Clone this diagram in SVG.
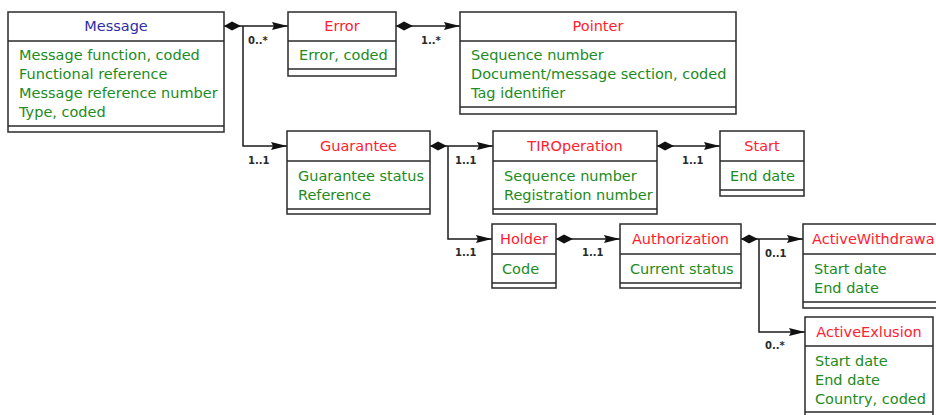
<svg xmlns="http://www.w3.org/2000/svg" width="936" height="415" viewBox="0 0 936 415">
<style>
  .box { fill: #ffffff; stroke: #2a2a2a; stroke-width: 1.5; }
  .sep { stroke: #2a2a2a; stroke-width: 1.5; fill: none; }
  .title { font-family: "DejaVu Sans", Verdana, sans-serif; font-size: 14.5px; fill: #ff2030; text-anchor: middle; }
  .title.main { fill: #2e2ea8; }
  .attr { font-family: "DejaVu Sans", Verdana, sans-serif; font-size: 14.5px; fill: #228b22; }
  .conn { stroke: #1a1a1a; stroke-width: 1.5; fill: none; }
  .lbl { font-family: "DejaVu Sans", Verdana, sans-serif; font-size: 10px; font-weight: bold; fill: #2a2a2a; }
</style>
<defs>
  <marker id="diamond" markerUnits="userSpaceOnUse" markerWidth="18" markerHeight="10" refX="0" refY="5" orient="auto" overflow="visible">
    <path d="M0,5 L8,0.5 L17,5 L8,9.5 Z" fill="#111"/>
  </marker>
  <marker id="arrow" markerUnits="userSpaceOnUse" markerWidth="16" markerHeight="10" refX="16" refY="5" orient="auto" overflow="visible">
    <path d="M0,1 L16,5 L0,9 L2,5 Z" fill="#111"/>
  </marker>
</defs>

<g id="connectors">
  <path class="conn" d="M224,26 H288" marker-start="url(#diamond)" marker-end="url(#arrow)"/>
  <path class="conn" d="M243,26 V146 H287" marker-end="url(#arrow)"/>
  <path class="conn" d="M396,26 H460" marker-start="url(#diamond)" marker-end="url(#arrow)"/>
  <path class="conn" d="M430,146 H493" marker-start="url(#diamond)" marker-end="url(#arrow)"/>
  <path class="conn" d="M448,146 V239 H492" marker-end="url(#arrow)"/>
  <path class="conn" d="M657,146 H720" marker-start="url(#diamond)" marker-end="url(#arrow)"/>
  <path class="conn" d="M556,239 H620" marker-start="url(#diamond)" marker-end="url(#arrow)"/>
  <path class="conn" d="M741,239 H803" marker-start="url(#diamond)" marker-end="url(#arrow)"/>
  <path class="conn" d="M759,239 V332 H805" marker-end="url(#arrow)"/>
  <text class="lbl" x="248" y="44">0..*</text>
  <text class="lbl" x="421" y="44">1..*</text>
  <text class="lbl" x="248" y="164">1..1</text>
  <text class="lbl" x="455" y="164">1..1</text>
  <text class="lbl" x="682" y="164">1..1</text>
  <text class="lbl" x="455" y="256">1..1</text>
  <text class="lbl" x="582" y="256">1..1</text>
  <text class="lbl" x="765" y="257">0..1</text>
  <text class="lbl" x="765" y="349">0..*</text>
</g>

<g id="Message">
  <rect class="box" x="8" y="12" width="216" height="120"/>
  <path class="sep" d="M8,41 H224 M8,126 H224"/>
  <text class="title main" x="116" y="31">Message</text>
  <text class="attr" x="19" y="60">Message function, coded</text>
  <text class="attr" x="19" y="79">Functional reference</text>
  <text class="attr" x="19" y="98">Message reference number</text>
  <text class="attr" x="19" y="117">Type, coded</text>
</g>

<g id="Error">
  <rect class="box" x="288" y="12" width="108" height="64"/>
  <path class="sep" d="M288,41 H396 M288,69 H396"/>
  <text class="title" x="342" y="31">Error</text>
  <text class="attr" x="299" y="60">Error, coded</text>
</g>

<g id="Pointer">
  <rect class="box" x="460" y="12" width="276" height="102"/>
  <path class="sep" d="M460,41 H736 M460,107 H736"/>
  <text class="title" x="598" y="31">Pointer</text>
  <text class="attr" x="471" y="60">Sequence number</text>
  <text class="attr" x="471" y="79">Document/message section, coded</text>
  <text class="attr" x="471" y="98">Tag identifier</text>
</g>

<g id="Guarantee">
  <rect class="box" x="287" y="131" width="143" height="83"/>
  <path class="sep" d="M287,161 H430 M287,209 H430"/>
  <text class="title" x="358.5" y="151">Guarantee</text>
  <text class="attr" x="298" y="181">Guarantee status</text>
  <text class="attr" x="298" y="200">Reference</text>
</g>

<g id="TIROperation">
  <rect class="box" x="493" y="131" width="164" height="83"/>
  <path class="sep" d="M493,161 H657 M493,209 H657"/>
  <text class="title" x="575" y="151">TIROperation</text>
  <text class="attr" x="504" y="181">Sequence number</text>
  <text class="attr" x="504" y="200">Registration number</text>
</g>

<g id="Start">
  <rect class="box" x="720" y="131" width="84" height="65"/>
  <path class="sep" d="M720,161 H804 M720,190 H804"/>
  <text class="title" x="762" y="151">Start</text>
  <text class="attr" x="730" y="181">End date</text>
</g>

<g id="Holder">
  <rect class="box" x="492" y="224" width="64" height="64"/>
  <path class="sep" d="M492,254 H556 M492,283 H556"/>
  <text class="title" x="524" y="244">Holder</text>
  <text class="attr" x="502" y="274">Code</text>
</g>

<g id="Authorization">
  <rect class="box" x="620" y="224" width="121" height="64"/>
  <path class="sep" d="M620,254 H741 M620,283 H741"/>
  <text class="title" x="680.5" y="244">Authorization</text>
  <text class="attr" x="630" y="274">Current status</text>
</g>

<g id="ActiveWithdrawal">
  <rect class="box" x="803" y="224" width="150" height="84"/>
  <path class="sep" d="M803,254 H953 M803,302 H953"/>
  <text class="title" x="812" y="244" style="text-anchor:start">ActiveWithdrawa</text>
  <text class="attr" x="814" y="274">Start date</text>
  <text class="attr" x="814" y="293">End date</text>
</g>

<g id="ActiveExlusion">
  <rect class="box" x="805" y="317" width="128" height="102"/>
  <path class="sep" d="M805,346 H933 M805,412 H933"/>
  <text class="title" x="869" y="337">ActiveExlusion</text>
  <text class="attr" x="815" y="366">Start date</text>
  <text class="attr" x="815" y="385">End date</text>
  <text class="attr" x="815" y="404">Country, coded</text>
</g>
</svg>
